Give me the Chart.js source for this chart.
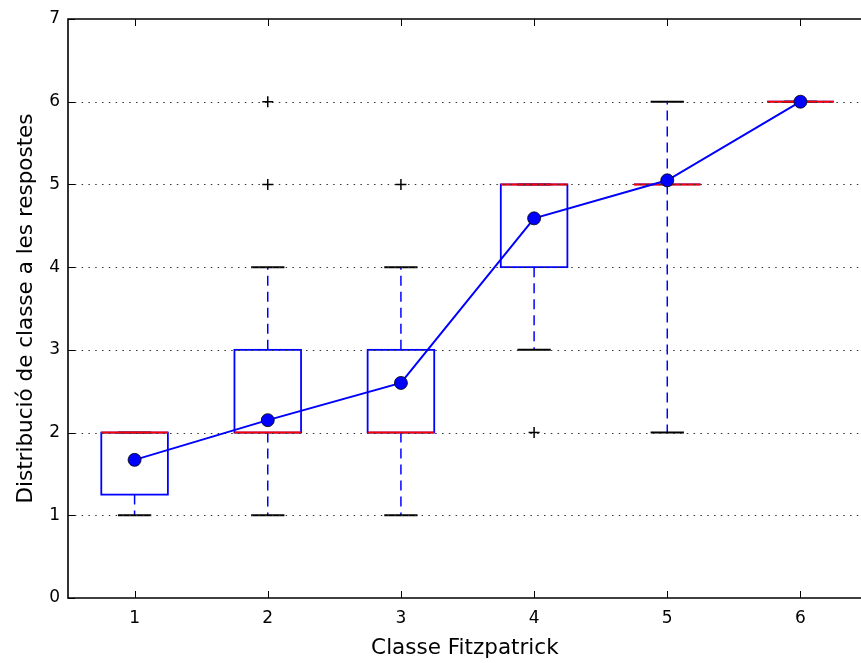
<!DOCTYPE html>
<html>
<head>
<meta charset="utf-8">
<script src="https://cdn.jsdelivr.net/npm/chart.js@4"></script>
<style>
    body { margin: 0; background: #fff; overflow: hidden; }
    canvas { display: block; }
</style>
</head>
<body>
<canvas id="chart" width="869" height="663"></canvas>
<script>
// Fitzpatrick class vs. answered class: box stats per class
const categories = [1, 2, 3, 4, 5, 6];
const q1 = [1.25, 2, 2, 4, 5, 6];
const medians = [2, 2, 2, 5, 5, 6];
const q3 = [2, 3, 3, 5, 5, 6];
const whiskerLow = [1, 1, 1, 3, 2, 6];
const whiskerHigh = [2, 4, 4, 5, 6, 6];
const means = [1.67, 2.15, 2.6, 4.59, 5.05, 6.0];

// outliers
const flierX = [2, 2, 3, 4];
const flierY = [5, 6, 5, 2];

const yTicks = [0, 1, 2, 3, 4, 5, 6, 7];
const gridLevels = [1, 2, 3, 4, 5, 6];

const BOX_W = 0.5;
const CAP_W = 0.25;
const FONT = "'DejaVu Sans', sans-serif";

const boxPlugin = {
    id: 'boxes',
    beforeDatasetsDraw(chart) {
        const { ctx, chartArea: a, scales: { x, y } } = chart;
        ctx.save();
        ctx.beginPath();
        ctx.rect(a.left, a.top, a.right - a.left, a.bottom - a.top);
        ctx.clip();

        categories.forEach((c, i) => {
            const cx = x.getPixelForValue(c);
            const hb = x.getPixelForValue(c + BOX_W / 2) - cx;
            const hc = x.getPixelForValue(c + CAP_W / 2) - cx;

            // whiskers, dashed from the box edge outwards
            ctx.strokeStyle = 'blue';
            ctx.lineWidth = 1.5;
            ctx.setLineDash([10, 6]);
            ctx.beginPath();
            ctx.moveTo(cx, y.getPixelForValue(q1[i]));
            ctx.lineTo(cx, y.getPixelForValue(whiskerLow[i]));
            ctx.stroke();
            ctx.beginPath();
            ctx.moveTo(cx, y.getPixelForValue(q3[i]));
            ctx.lineTo(cx, y.getPixelForValue(whiskerHigh[i]));
            ctx.stroke();
            ctx.setLineDash([]);

            // caps
            ctx.strokeStyle = '#000';
            ctx.lineWidth = 2;
            [whiskerLow[i], whiskerHigh[i]].forEach(v => {
                const py = y.getPixelForValue(v);
                ctx.beginPath();
                ctx.moveTo(cx - hc, py);
                ctx.lineTo(cx + hc, py);
                ctx.stroke();
            });

            // box
            ctx.strokeStyle = 'blue';
            ctx.lineWidth = 1.8;
            const top = y.getPixelForValue(q3[i]);
            const bot = y.getPixelForValue(q1[i]);
            ctx.strokeRect(cx - hb, top, hb * 2, bot - top);

            // median
            ctx.strokeStyle = 'red';
            ctx.lineWidth = 2;
            const my = y.getPixelForValue(medians[i]);
            ctx.beginPath();
            ctx.moveTo(cx - hb, my);
            ctx.lineTo(cx + hb, my);
            ctx.stroke();
        });

        // dotted horizontal grid
        ctx.strokeStyle = '#333';
        ctx.lineWidth = 1.2;
        ctx.setLineDash([1.5, 5.3]);
        gridLevels.forEach(v => {
            const py = Math.round(y.getPixelForValue(v)) + 0.5;
            ctx.beginPath();
            ctx.moveTo(a.left, py);
            ctx.lineTo(a.right, py);
            ctx.stroke();
        });
        ctx.restore();
    },
    afterDraw(chart) {
        const { ctx, chartArea: a, scales: { x, y } } = chart;
        ctx.save();
        ctx.strokeStyle = '#000';

        // inward tick marks
        ctx.lineWidth = 1;
        const TL = 7;
        categories.forEach(c => {
            const px = Math.round(x.getPixelForValue(c)) + 0.5;
            ctx.beginPath();
            ctx.moveTo(px, a.bottom);
            ctx.lineTo(px, a.bottom - TL);
            ctx.moveTo(px, a.top);
            ctx.lineTo(px, a.top + TL);
            ctx.stroke();
        });
        yTicks.forEach(v => {
            const py = Math.round(y.getPixelForValue(v)) + 0.5;
            ctx.beginPath();
            ctx.moveTo(a.left, py);
            ctx.lineTo(a.left + TL, py);
            ctx.stroke();
        });

        // frame (left, top, bottom)
        ctx.lineWidth = 1.6;
        ctx.beginPath();
        ctx.moveTo(a.right, a.top);
        ctx.lineTo(a.left, a.top);
        ctx.lineTo(a.left, a.bottom);
        ctx.lineTo(a.right, a.bottom);
        ctx.stroke();
        ctx.restore();
    }
};

new Chart(document.getElementById('chart'), {
    type: 'line',
    data: {
        datasets: [
            {
                label: 'mitjana',
                data: categories.map((c, i) => ({ x: c, y: means[i] })),
                borderColor: 'blue',
                borderWidth: 2,
                pointRadius: 6.5,
                pointBackgroundColor: 'blue',
                pointBorderColor: '#000',
                pointBorderWidth: 0.8,
                tension: 0
            },
            {
                type: 'scatter',
                label: 'atípics',
                data: flierX.map((fx, i) => ({ x: fx, y: flierY[i] })),
                pointStyle: 'cross',
                pointRadius: 5.5,
                borderColor: '#000',
                borderWidth: 1.5,
                showLine: false
            }
        ]
    },
    options: {
        responsive: false,
        animation: false,
        layout: { padding: { top: 19, right: 0, left: 0, bottom: 0 } },
        plugins: {
            legend: { display: false },
            tooltip: { enabled: false }
        },
        scales: {
            x: {
                type: 'linear',
                min: 0.5,
                max: 6.46,
                afterBuildTicks: s => { s.ticks = categories.map(v => ({ value: v })); },
                afterFit: s => { s.height = 65; },
                grid: { display: false, drawTicks: false },
                border: { display: false },
                ticks: { color: '#000', font: { family: FONT, size: 17 }, padding: 10, maxRotation: 0 },
                title: {
                    display: true,
                    text: 'Classe Fitzpatrick',
                    color: '#000',
                    font: { family: FONT, size: 21.5 },
                    padding: { top: 0, bottom: 2 }
                }
            },
            y: {
                min: 0,
                max: 7,
                afterBuildTicks: s => { s.ticks = yTicks.map(v => ({ value: v })); },
                afterFit: s => { s.width = 68; },
                grid: { display: false, drawTicks: false },
                border: { display: false },
                ticks: { color: '#000', font: { family: FONT, size: 17 }, padding: 8 },
                title: {
                    display: true,
                    text: 'Distribució de classe a les respostes',
                    color: '#000',
                    font: { family: FONT, size: 21.5 },
                    padding: { top: 13.5, bottom: 0 }
                }
            }
        }
    },
    plugins: [boxPlugin]
});
</script>
</body>
</html>
